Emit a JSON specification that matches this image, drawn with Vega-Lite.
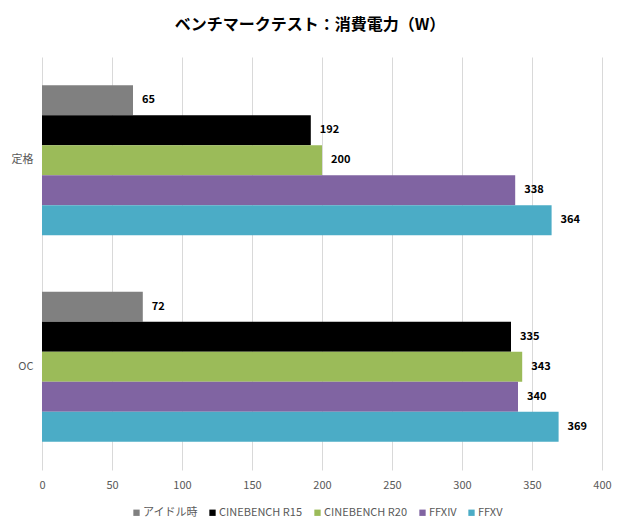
{
  "$schema": "https://vega.github.io/schema/vega-lite/v6.json",
  "width": 560,
  "height": 413,
  "autosize": {"type": "none"},
  "padding": {"left": 42, "top": 57, "right": 18, "bottom": 55},
  "background": "white",
  "config": {
    "view": {"stroke": null},
    "font": "Noto Sans CJK JP"
  },
  "title": {
    "text": "ベンチマークテスト：消費電力（W）",
    "fontSize": 16,
    "fontWeight": "bold",
    "font": "Noto Sans CJK JP",
    "color": "#000000",
    "anchor": "middle",
    "offset": 24,
    "dx": -12
  },
  "data": {
    "values": [
      {"group": "定格", "series": "アイドル時", "value": 65},
      {"group": "定格", "series": "CINEBENCH R15", "value": 192},
      {"group": "定格", "series": "CINEBENCH R20", "value": 200},
      {"group": "定格", "series": "FFXIV", "value": 338},
      {"group": "定格", "series": "FFXV", "value": 364},
      {"group": "OC", "series": "アイドル時", "value": 72},
      {"group": "OC", "series": "CINEBENCH R15", "value": 335},
      {"group": "OC", "series": "CINEBENCH R20", "value": 343},
      {"group": "OC", "series": "FFXIV", "value": 340},
      {"group": "OC", "series": "FFXV", "value": 369}
    ]
  },
  "encoding": {
    "y": {
      "field": "group",
      "type": "nominal",
      "sort": ["定格", "OC"],
      "scale": {"paddingInner": 0.274, "paddingOuter": 0.137},
      "axis": {
        "title": null,
        "ticks": false,
        "domain": false,
        "labelPadding": 9,
        "labelFontSize": 11,
        "labelColor": "#595959",
        "labelFont": "Noto Sans CJK JP"
      }
    },
    "yOffset": {
      "field": "series",
      "type": "nominal",
      "sort": ["アイドル時", "CINEBENCH R15", "CINEBENCH R20", "FFXIV", "FFXV"],
      "scale": {"paddingInner": 0, "paddingOuter": 0}
    },
    "x": {
      "field": "value",
      "type": "quantitative",
      "scale": {"domain": [0, 400], "nice": false},
      "axis": {
        "title": null,
        "values": [0, 50, 100, 150, 200, 250, 300, 350, 400],
        "grid": true,
        "gridColor": "#d9d9d9",
        "domain": false,
        "ticks": false,
        "labelFlush": false,
        "labelPadding": 9,
        "labelFontSize": 11,
        "labelColor": "#595959",
        "labelFont": "Noto Sans CJK JP"
      }
    }
  },
  "layer": [
    {
      "mark": {"type": "bar"},
      "encoding": {
        "color": {
          "field": "series",
          "type": "nominal",
          "scale": {
            "domain": ["アイドル時", "CINEBENCH R15", "CINEBENCH R20", "FFXIV", "FFXV"],
            "range": ["#808080", "#000000", "#9bbb59", "#8064a2", "#4bacc6"]
          },
          "legend": {
            "title": null,
            "orient": "none",
            "direction": "horizontal",
            "legendX": 89,
            "legendY": 450,
            "symbolType": "square",
            "symbolSize": 40,
            "symbolStrokeWidth": 0,
            "labelFontSize": 11,
            "labelColor": "#595959",
            "labelFont": "Noto Sans CJK JP",
            "columnPadding": 9,
            "labelOffset": 1
          }
        }
      }
    },
    {
      "mark": {
        "type": "text",
        "align": "left",
        "baseline": "middle",
        "dx": 9,
        "fontSize": 11,
        "fontWeight": "bold",
        "color": "#000000",
        "font": "Noto Sans CJK JP"
      },
      "encoding": {
        "text": {"field": "value", "type": "quantitative"}
      }
    }
  ]
}
